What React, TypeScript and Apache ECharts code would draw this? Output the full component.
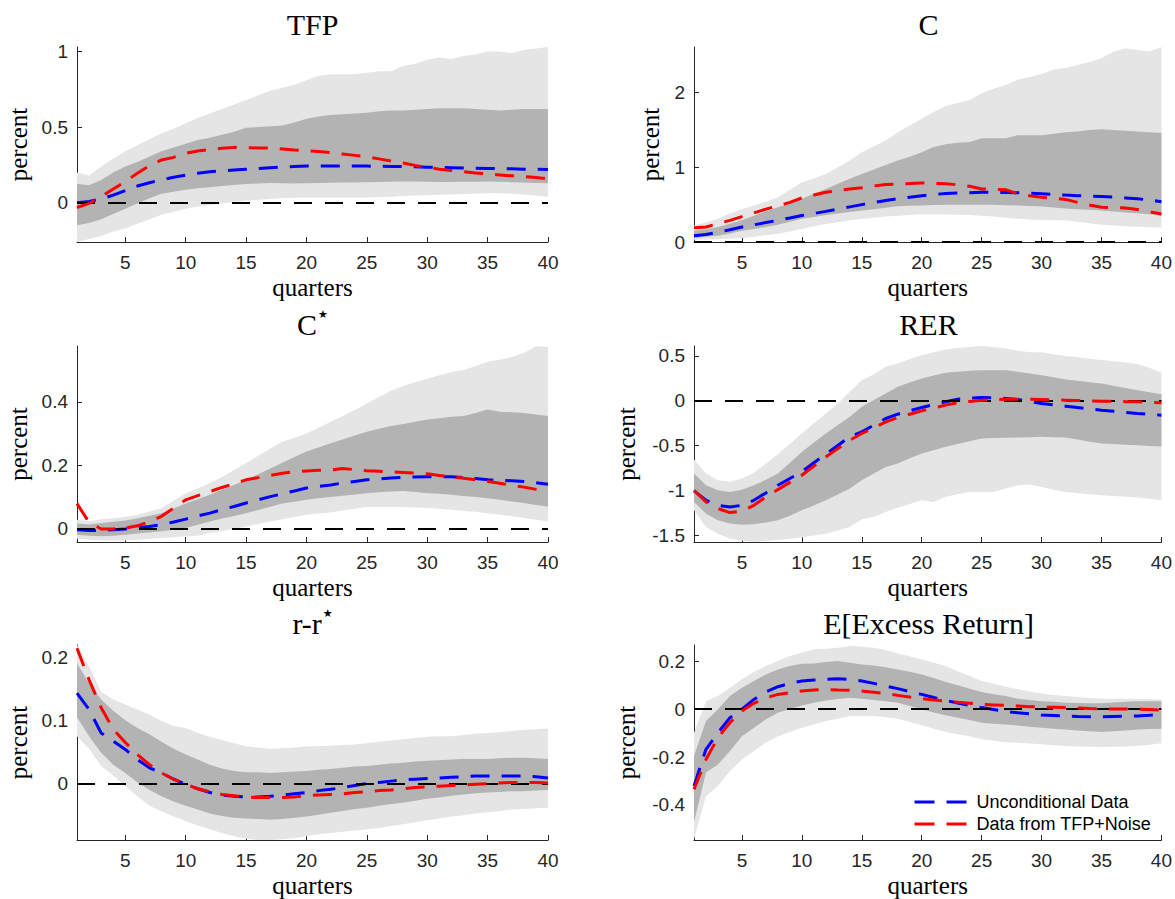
import React, { useEffect, useRef } from "react";
import * as echarts from "echarts";

// ---------- categories / ticks ----------
const quarters = ["1","2","3","4","5","6","7","8","9","10","11","12","13","14","15","16","17","18","19","20","21","22","23","24","25","26","27","28","29","30","31","32","33","34","35","36","37","38","39","40"];
const xTickLabels = ["5","10","15","20","25","30","35","40"];

// ---------- TFP ----------
const tfpHi95 = [0.20,0.18,0.24,0.29,0.34,0.38,0.42,0.46,0.49,0.525,0.56,0.59,0.62,0.65,0.68,0.71,0.74,0.76,0.78,0.81,0.84,0.85,0.85,0.85,0.86,0.87,0.87,0.905,0.92,0.945,0.96,0.95,0.97,0.98,1.0,1.0,0.99,1.01,1.02,1.03];
const tfpLo95 = [-0.26,-0.24,-0.22,-0.19,-0.17,-0.14,-0.11,-0.08,-0.06,-0.04,-0.025,-0.015,-0.005,0.005,0.015,0.02,0.025,0.03,0.032,0.035,0.035,0.035,0.035,0.035,0.035,0.037,0.04,0.045,0.048,0.05,0.052,0.055,0.057,0.06,0.062,0.062,0.06,0.055,0.048,0.04];
const tfpHi68 = [0.125,0.115,0.15,0.20,0.24,0.27,0.305,0.34,0.365,0.39,0.415,0.43,0.45,0.47,0.495,0.50,0.505,0.51,0.53,0.555,0.57,0.58,0.585,0.59,0.595,0.605,0.61,0.61,0.615,0.62,0.625,0.625,0.625,0.62,0.615,0.61,0.615,0.62,0.62,0.62];
const tfpLo68 = [-0.15,-0.135,-0.11,-0.075,-0.04,-0.005,0.03,0.06,0.072,0.085,0.095,0.102,0.11,0.117,0.123,0.127,0.13,0.128,0.127,0.128,0.13,0.132,0.133,0.134,0.135,0.137,0.138,0.14,0.14,0.138,0.137,0.137,0.138,0.139,0.14,0.138,0.136,0.133,0.13,0.128];
const tfpUncond = [0.0,0.008,0.025,0.05,0.08,0.11,0.132,0.152,0.168,0.182,0.195,0.204,0.211,0.216,0.221,0.226,0.231,0.236,0.24,0.242,0.243,0.243,0.243,0.243,0.242,0.241,0.24,0.239,0.237,0.235,0.233,0.232,0.23,0.228,0.227,0.225,0.224,0.222,0.221,0.22];
const tfpNoise = [-0.032,-0.005,0.04,0.09,0.14,0.195,0.245,0.283,0.30,0.327,0.342,0.352,0.36,0.366,0.364,0.362,0.362,0.356,0.349,0.344,0.338,0.331,0.322,0.313,0.303,0.29,0.276,0.262,0.247,0.233,0.222,0.213,0.205,0.197,0.19,0.184,0.178,0.172,0.166,0.159];

// ---------- C ----------
const cHi95 = [0.22,0.26,0.31,0.38,0.44,0.49,0.54,0.60,0.70,0.80,0.85,0.91,1.00,1.09,1.20,1.28,1.36,1.47,1.56,1.65,1.74,1.82,1.86,1.90,1.99,2.05,2.10,2.17,2.21,2.25,2.31,2.33,2.37,2.41,2.46,2.55,2.59,2.57,2.55,2.61];
const cLo95 = [0.03,0.035,0.04,0.048,0.055,0.07,0.09,0.11,0.14,0.175,0.21,0.24,0.265,0.29,0.31,0.325,0.34,0.35,0.36,0.37,0.37,0.37,0.365,0.36,0.35,0.34,0.325,0.31,0.30,0.295,0.292,0.29,0.27,0.25,0.23,0.22,0.21,0.205,0.198,0.19];
const cHi68 = [0.15,0.17,0.2,0.245,0.29,0.35,0.41,0.465,0.52,0.58,0.645,0.71,0.78,0.845,0.91,0.97,1.03,1.09,1.14,1.20,1.27,1.31,1.33,1.34,1.39,1.39,1.39,1.43,1.43,1.43,1.45,1.47,1.48,1.50,1.51,1.50,1.49,1.48,1.47,1.46];
const cLo68 = [0.055,0.07,0.085,0.115,0.15,0.175,0.20,0.23,0.27,0.31,0.335,0.36,0.38,0.40,0.42,0.44,0.46,0.48,0.485,0.49,0.495,0.50,0.50,0.50,0.50,0.497,0.493,0.49,0.482,0.475,0.462,0.45,0.44,0.43,0.42,0.408,0.396,0.385,0.37,0.355];
const cUncond = [0.085,0.10,0.13,0.165,0.20,0.23,0.26,0.29,0.322,0.355,0.382,0.41,0.44,0.47,0.50,0.527,0.555,0.58,0.60,0.62,0.635,0.65,0.655,0.66,0.665,0.665,0.663,0.66,0.652,0.645,0.637,0.628,0.62,0.615,0.61,0.60,0.59,0.58,0.56,0.54];
const cNoise = [0.19,0.20,0.245,0.29,0.34,0.39,0.44,0.485,0.53,0.59,0.63,0.665,0.69,0.71,0.725,0.75,0.77,0.775,0.782,0.79,0.785,0.78,0.765,0.745,0.71,0.705,0.70,0.645,0.62,0.60,0.585,0.57,0.53,0.495,0.465,0.46,0.455,0.435,0.405,0.375];

// ---------- C* ----------
const csHi95 = [0.028,0.023,0.03,0.033,0.037,0.044,0.054,0.065,0.088,0.112,0.127,0.143,0.163,0.185,0.206,0.23,0.253,0.274,0.287,0.30,0.318,0.337,0.355,0.374,0.395,0.415,0.435,0.45,0.462,0.473,0.484,0.494,0.50,0.513,0.526,0.533,0.541,0.554,0.575,0.573];
const csLo95 = [-0.032,-0.035,-0.037,-0.037,-0.037,-0.035,-0.032,-0.029,-0.027,-0.024,-0.022,-0.014,-0.007,0.0,0.007,0.015,0.023,0.03,0.037,0.044,0.048,0.051,0.057,0.063,0.068,0.068,0.068,0.068,0.067,0.065,0.063,0.06,0.056,0.053,0.049,0.044,0.039,0.034,0.028,0.023];
const csHi68 = [0.016,0.013,0.018,0.022,0.026,0.033,0.041,0.049,0.064,0.079,0.093,0.107,0.123,0.138,0.154,0.172,0.19,0.208,0.226,0.243,0.256,0.269,0.281,0.294,0.306,0.315,0.324,0.33,0.337,0.344,0.348,0.353,0.355,0.365,0.376,0.369,0.367,0.365,0.36,0.355];
const csLo68 = [-0.019,-0.022,-0.024,-0.022,-0.019,-0.015,-0.012,-0.008,-0.003,0.002,0.012,0.023,0.032,0.04,0.049,0.059,0.069,0.079,0.085,0.091,0.096,0.10,0.104,0.108,0.112,0.115,0.117,0.119,0.116,0.112,0.11,0.107,0.103,0.1,0.096,0.091,0.086,0.081,0.075,0.07];
const csUncond = [-0.003,-0.006,-0.005,-0.003,-0.001,0.003,0.007,0.013,0.021,0.03,0.04,0.049,0.06,0.07,0.081,0.091,0.101,0.11,0.119,0.128,0.133,0.138,0.144,0.149,0.154,0.157,0.16,0.162,0.163,0.164,0.164,0.164,0.161,0.158,0.154,0.153,0.151,0.149,0.145,0.14];
const csNoise = [0.079,0.02,-0.001,-0.001,0.002,0.009,0.022,0.039,0.065,0.091,0.104,0.117,0.13,0.142,0.154,0.161,0.168,0.175,0.179,0.182,0.184,0.185,0.19,0.186,0.183,0.181,0.179,0.177,0.175,0.173,0.168,0.164,0.159,0.154,0.149,0.143,0.137,0.131,0.124,0.117];

// ---------- RER ----------
const rerHi95 = [-0.654,-0.81,-0.885,-0.903,-0.866,-0.80,-0.70,-0.595,-0.48,-0.364,-0.25,-0.141,-0.03,0.10,0.23,0.297,0.38,0.416,0.465,0.509,0.54,0.572,0.59,0.60,0.61,0.60,0.584,0.56,0.54,0.54,0.52,0.50,0.485,0.47,0.454,0.44,0.428,0.41,0.37,0.312];
const rerLo95 = [-1.22,-1.405,-1.48,-1.535,-1.56,-1.57,-1.56,-1.55,-1.537,-1.524,-1.50,-1.48,-1.445,-1.405,-1.32,-1.294,-1.24,-1.19,-1.15,-1.108,-1.126,-1.07,-1.04,-1.015,-1.015,-1.015,-0.978,-0.94,-0.933,-0.96,-0.99,-1.015,-1.03,-1.042,-1.052,-1.06,-1.07,-1.078,-1.09,-1.108];
const rerHi68 = [-0.81,-0.94,-0.996,-1.015,-0.99,-0.94,-0.88,-0.81,-0.69,-0.569,-0.465,-0.364,-0.27,-0.178,-0.067,0.01,0.082,0.156,0.205,0.249,0.282,0.312,0.325,0.335,0.342,0.342,0.342,0.323,0.305,0.286,0.262,0.238,0.223,0.208,0.193,0.168,0.143,0.119,0.096,0.074];
const rerLo68 = [-1.126,-1.257,-1.331,-1.368,-1.38,-1.375,-1.355,-1.331,-1.28,-1.22,-1.165,-1.108,-1.045,-0.978,-0.885,-0.81,-0.736,-0.699,-0.64,-0.587,-0.55,-0.513,-0.48,-0.45,-0.42,-0.415,-0.412,-0.409,-0.405,-0.401,-0.405,-0.409,-0.43,-0.455,-0.476,-0.482,-0.488,-0.494,-0.502,-0.51];
const rerUncond = [-1.004,-1.108,-1.164,-1.182,-1.164,-1.108,-1.026,-0.94,-0.865,-0.79,-0.69,-0.595,-0.497,-0.40,-0.346,-0.27,-0.197,-0.149,-0.11,-0.074,-0.042,-0.011,0.019,0.03,0.037,0.033,0.026,0.015,-0.008,-0.03,-0.045,-0.06,-0.075,-0.09,-0.104,-0.116,-0.128,-0.141,-0.15,-0.16];
const rerNoise = [-0.996,-1.126,-1.20,-1.245,-1.227,-1.164,-1.07,-0.989,-0.909,-0.829,-0.727,-0.625,-0.532,-0.439,-0.364,-0.30,-0.234,-0.186,-0.149,-0.112,-0.08,-0.048,-0.022,-0.007,0.007,0.013,0.019,0.019,0.017,0.015,0.011,0.007,0.003,0.0,-0.004,-0.006,-0.009,-0.011,-0.016,-0.022];

// ---------- r - r* ----------
const rrHi95 = [0.219,0.185,0.145,0.133,0.125,0.117,0.109,0.099,0.091,0.088,0.08,0.074,0.069,0.064,0.059,0.057,0.055,0.056,0.057,0.059,0.059,0.06,0.061,0.062,0.064,0.066,0.068,0.07,0.072,0.074,0.075,0.075,0.077,0.079,0.08,0.081,0.083,0.085,0.086,0.087];
const rrLo95 = [0.075,0.055,0.028,0.013,-0.004,-0.02,-0.035,-0.044,-0.052,-0.059,-0.066,-0.072,-0.078,-0.083,-0.087,-0.089,-0.089,-0.088,-0.086,-0.083,-0.08,-0.078,-0.076,-0.074,-0.072,-0.07,-0.067,-0.064,-0.061,-0.058,-0.055,-0.052,-0.05,-0.047,-0.045,-0.043,-0.041,-0.04,-0.039,-0.038];
const rrHi68 = [0.19,0.158,0.133,0.115,0.1,0.088,0.078,0.066,0.055,0.046,0.038,0.03,0.024,0.02,0.018,0.018,0.017,0.018,0.019,0.02,0.022,0.023,0.025,0.027,0.028,0.03,0.032,0.033,0.035,0.036,0.037,0.038,0.039,0.039,0.039,0.04,0.041,0.041,0.04,0.039];
const rrLo68 = [0.105,0.075,0.049,0.03,0.017,0.002,-0.01,-0.02,-0.028,-0.035,-0.041,-0.047,-0.051,-0.054,-0.055,-0.056,-0.057,-0.056,-0.054,-0.052,-0.049,-0.046,-0.043,-0.04,-0.038,-0.035,-0.032,-0.03,-0.027,-0.024,-0.022,-0.019,-0.017,-0.015,-0.014,-0.013,-0.012,-0.012,-0.011,-0.01];
const rrUncond = [0.143,0.117,0.08,0.067,0.054,0.038,0.025,0.017,0.007,-0.001,-0.008,-0.014,-0.018,-0.02,-0.021,-0.021,-0.02,-0.018,-0.016,-0.014,-0.011,-0.009,-0.006,-0.003,0.0,0.002,0.004,0.006,0.007,0.008,0.009,0.01,0.011,0.012,0.012,0.012,0.012,0.012,0.011,0.009];
const rrNoise = [0.214,0.164,0.12,0.086,0.065,0.046,0.03,0.017,0.007,-0.001,-0.008,-0.013,-0.017,-0.019,-0.021,-0.022,-0.022,-0.022,-0.021,-0.019,-0.018,-0.017,-0.016,-0.014,-0.013,-0.011,-0.01,-0.008,-0.006,-0.005,-0.004,-0.003,-0.002,-0.001,0.0,0.001,0.002,0.002,0.002,0.001];

// ---------- E[Excess Return] ----------
const erHi95 = [-0.099,0.033,0.054,0.089,0.124,0.154,0.179,0.20,0.221,0.235,0.249,0.251,0.256,0.263,0.26,0.256,0.246,0.232,0.22,0.207,0.193,0.179,0.158,0.138,0.117,0.105,0.093,0.082,0.073,0.065,0.059,0.054,0.05,0.046,0.043,0.043,0.043,0.043,0.041,0.04];
const erLo95 = [-0.543,-0.363,-0.321,-0.258,-0.21,-0.175,-0.14,-0.115,-0.096,-0.078,-0.064,-0.05,-0.04,-0.029,-0.029,-0.029,-0.034,-0.04,-0.054,-0.068,-0.082,-0.096,-0.105,-0.113,-0.126,-0.132,-0.138,-0.141,-0.144,-0.147,-0.151,-0.154,-0.156,-0.157,-0.158,-0.157,-0.156,-0.154,-0.149,-0.143];
const erHi68 = [-0.196,-0.05,-0.001,0.054,0.089,0.117,0.144,0.165,0.179,0.189,0.19,0.196,0.2,0.193,0.186,0.182,0.174,0.165,0.155,0.144,0.129,0.113,0.099,0.085,0.071,0.062,0.054,0.043,0.038,0.033,0.03,0.026,0.025,0.024,0.024,0.027,0.03,0.033,0.033,0.033];
const erLo68 = [-0.471,-0.265,-0.231,-0.175,-0.113,-0.078,-0.043,-0.015,0.0,0.015,0.026,0.036,0.042,0.047,0.043,0.038,0.033,0.026,0.013,-0.001,-0.014,-0.026,-0.036,-0.046,-0.057,-0.061,-0.064,-0.069,-0.074,-0.078,-0.082,-0.085,-0.089,-0.093,-0.096,-0.093,-0.089,-0.085,-0.083,-0.082];
const erUncond = [-0.321,-0.168,-0.099,-0.036,-0.001,0.04,0.071,0.093,0.107,0.117,0.121,0.124,0.126,0.124,0.117,0.107,0.096,0.085,0.073,0.061,0.048,0.036,0.025,0.015,0.006,-0.002,-0.01,-0.015,-0.02,-0.025,-0.027,-0.029,-0.031,-0.032,-0.032,-0.031,-0.03,-0.029,-0.026,-0.022];
const erNoise = [-0.335,-0.21,-0.119,-0.057,-0.008,0.024,0.047,0.061,0.068,0.075,0.079,0.082,0.079,0.078,0.075,0.07,0.065,0.057,0.05,0.044,0.038,0.033,0.028,0.024,0.019,0.017,0.015,0.013,0.01,0.008,0.007,0.006,0.004,0.002,0.001,0.0,0.0,-0.001,-0.002,-0.004];

// ---------- y ticks ----------
const tfpYTicks = [0, 0.5, 1];
const cYTicks = [0, 1, 2];
const csYTicks = [0, 0.2, 0.4];
const rerYTicks = [-1.5, -1, -0.5, 0, 0.5];
const rrYTicks = [0, 0.1, 0.2];
const erYTicks = [-0.4, -0.2, 0, 0.2];

const seriesNames = ["Unconditional Data", "Data from TFP+Noise"];

const panels = [
  { title: "TFP", hi95: tfpHi95, lo95: tfpLo95, hi68: tfpHi68, lo68: tfpLo68, uncond: tfpUncond, noise: tfpNoise, yMin: -0.26, yMax: 1.03, yTicks: tfpYTicks },
  { title: "C", hi95: cHi95, lo95: cLo95, hi68: cHi68, lo68: cLo68, uncond: cUncond, noise: cNoise, yMin: 0, yMax: 2.61, yTicks: cYTicks },
  { title: "C{s|★}", hi95: csHi95, lo95: csLo95, hi68: csHi68, lo68: csLo68, uncond: csUncond, noise: csNoise, yMin: -0.042, yMax: 0.576, yTicks: csYTicks },
  { title: "RER", hi95: rerHi95, lo95: rerLo95, hi68: rerHi68, lo68: rerLo68, uncond: rerUncond, noise: rerNoise, yMin: -1.573, yMax: 0.611, yTicks: rerYTicks },
  { title: "r-r{s|★}", hi95: rrHi95, lo95: rrLo95, hi68: rrHi68, lo68: rrLo68, uncond: rrUncond, noise: rrNoise, yMin: -0.089, yMax: 0.219, yTicks: rrYTicks },
  { title: "E[Excess Return]", hi95: erHi95, lo95: erLo95, hi68: erHi68, lo68: erLo68, uncond: erUncond, noise: erNoise, yMin: -0.546, yMax: 0.267, yTicks: erYTicks },
];

// ---------- layout ----------
const layout = [
  { left: 77, top: 47, width: 471, height: 195, nameGap: 46, titleY: 24 },
  { left: 694, top: 47, width: 469, height: 195, nameGap: 31, titleY: 24 },
  { left: 77, top: 346, width: 471, height: 196, nameGap: 46, titleY: 324 },
  { left: 694, top: 346, width: 469, height: 196, nameGap: 55, titleY: 324 },
  { left: 77, top: 645, width: 471, height: 196, nameGap: 46, titleY: 623 },
  { left: 694, top: 645, width: 469, height: 196, nameGap: 55, titleY: 623 },
];

const SANS = "Liberation Sans";
const SERIF = "Liberation Serif";
const AXIS_COLOR = "#262626";
const LIGHT = "#e5e5e5";
const DARK = "#b3b3b3";
const DASH = [19, 12];

function buildOption() {
  const grid: any[] = [];
  const xAxis: any[] = [];
  const yAxis: any[] = [];
  const series: any[] = [];
  const graphic: any[] = [];

  panels.forEach((p, i) => {
    const L = layout[i];
    grid.push({ left: L.left, top: L.top, width: L.width, height: L.height, containLabel: false });
    xAxis.push({
      type: "category",
      gridIndex: i,
      data: quarters,
      boundaryGap: false,
      axisLine: { show: true, onZero: false, lineStyle: { color: AXIS_COLOR, width: 1 } },
      axisTick: {
        show: true,
        inside: true,
        length: 5,
        interval: (_idx: number, val: string) => xTickLabels.indexOf(val) >= 0,
        lineStyle: { color: AXIS_COLOR },
      },
      axisLabel: {
        interval: (_idx: number, val: string) => xTickLabels.indexOf(val) >= 0,
        color: AXIS_COLOR,
        fontFamily: SANS,
        fontSize: 19,
        margin: 11,
      },
      splitLine: { show: false },
      name: "quarters",
      nameLocation: "middle",
      nameGap: 33,
      nameTextStyle: { fontFamily: SERIF, fontSize: 25, fontWeight: "normal", color: "#000" },
    });
    yAxis.push({
      type: "value",
      gridIndex: i,
      min: p.yMin,
      max: p.yMax,
      axisLine: { show: true, onZero: false, lineStyle: { color: AXIS_COLOR, width: 1 } },
      axisTick: { show: true, inside: true, length: 5, customValues: p.yTicks, lineStyle: { color: AXIS_COLOR } },
      axisLabel: { customValues: p.yTicks, color: AXIS_COLOR, fontFamily: SANS, fontSize: 19, margin: 9 },
      splitLine: { show: false },
      name: "percent",
      nameLocation: "middle",
      nameGap: L.nameGap,
      nameRotate: 90,
      nameTextStyle: { fontFamily: SERIF, fontSize: 25, fontWeight: "normal", color: "#000" },
    });

    const common = {
      type: "line",
      xAxisIndex: i,
      yAxisIndex: i,
      symbol: "none",
      showSymbol: false,
      silent: true,
      animation: false,
      stackStrategy: "all",
    };
    const diff95 = p.hi95.map((v, k) => v - p.lo95[k]);
    const diff68 = p.hi68.map((v, k) => v - p.lo68[k]);
    series.push({ ...common, name: "b95lo" + i, stack: "s95_" + i, data: p.lo95, lineStyle: { opacity: 0 }, z: 2 });
    series.push({ ...common, name: "b95" + i, stack: "s95_" + i, data: diff95, lineStyle: { opacity: 0 }, areaStyle: { color: LIGHT, opacity: 1 }, z: 2 });
    series.push({ ...common, name: "b68lo" + i, stack: "s68_" + i, data: p.lo68, lineStyle: { opacity: 0 }, z: 2 });
    series.push({ ...common, name: "b68" + i, stack: "s68_" + i, data: diff68, lineStyle: { opacity: 0 }, areaStyle: { color: DARK, opacity: 1 }, z: 2 });
    series.push({
      type: "line",
      xAxisIndex: i,
      yAxisIndex: i,
      name: "zero" + i,
      data: [],
      silent: true,
      z: 3,
      markLine: {
        silent: true,
        symbol: "none",
        label: { show: false },
        lineStyle: { color: "#000", width: 2, type: [18, 13] },
        data: [{ yAxis: 0 }],
        animation: false,
      },
    });
    series.push({
      type: "line", xAxisIndex: i, yAxisIndex: i, name: seriesNames[0], data: p.uncond,
      symbol: "none", showSymbol: false, silent: true, z: 4,
      lineStyle: { color: "#0000ff", width: 3, type: DASH, cap: "butt" },
      itemStyle: { color: "#0000ff" },
    });
    series.push({
      type: "line", xAxisIndex: i, yAxisIndex: i, name: seriesNames[1], data: p.noise,
      symbol: "none", showSymbol: false, silent: true, z: 5,
      lineStyle: { color: "#ff0000", width: 3, type: DASH, cap: "butt" },
      itemStyle: { color: "#ff0000" },
    });

    graphic.push({
      type: "text",
      x: L.left + L.width / 2,
      y: L.titleY,
      silent: true,
      style: {
        text: p.title,
        fill: "#000",
        fontFamily: SERIF,
        fontSize: 30,
        align: "center",
        verticalAlign: "middle",
        rich: {
          s: { fontSize: 11, fontFamily: "DejaVu Sans", verticalAlign: "top", fill: "#000", padding: [0, 0, 8, 1] },
        },
      },
    });
  });

  return {
    animation: false,
    backgroundColor: "#ffffff",
    grid,
    xAxis,
    yAxis,
    series,
    graphic,
    legend: {
      data: seriesNames,
      orient: "vertical",
      left: 913,
      top: 792,
      itemWidth: 53,
      itemHeight: 14,
      itemGap: 2,
      padding: 0,
      selectedMode: false,
      itemStyle: { opacity: 0 },
      lineStyle: { width: 3, type: [20, 12] },
      textStyle: { fontFamily: SANS, fontSize: 18, lineHeight: 20, color: "#000", padding: [0, 0, 0, 4] },
    },
  };
}

export default function App() {
  const ref = useRef<HTMLDivElement>(null);
  useEffect(() => {
    if (!ref.current) return;
    const chart = echarts.init(ref.current, null, { renderer: "svg" });
    chart.setOption(buildOption() as any);
    return () => chart.dispose();
  }, []);
  return (
    <div
      ref={ref}
      style={{ position: "absolute", left: 0, top: 0, width: 1175, height: 899, background: "#fff" }}
    />
  );
}
